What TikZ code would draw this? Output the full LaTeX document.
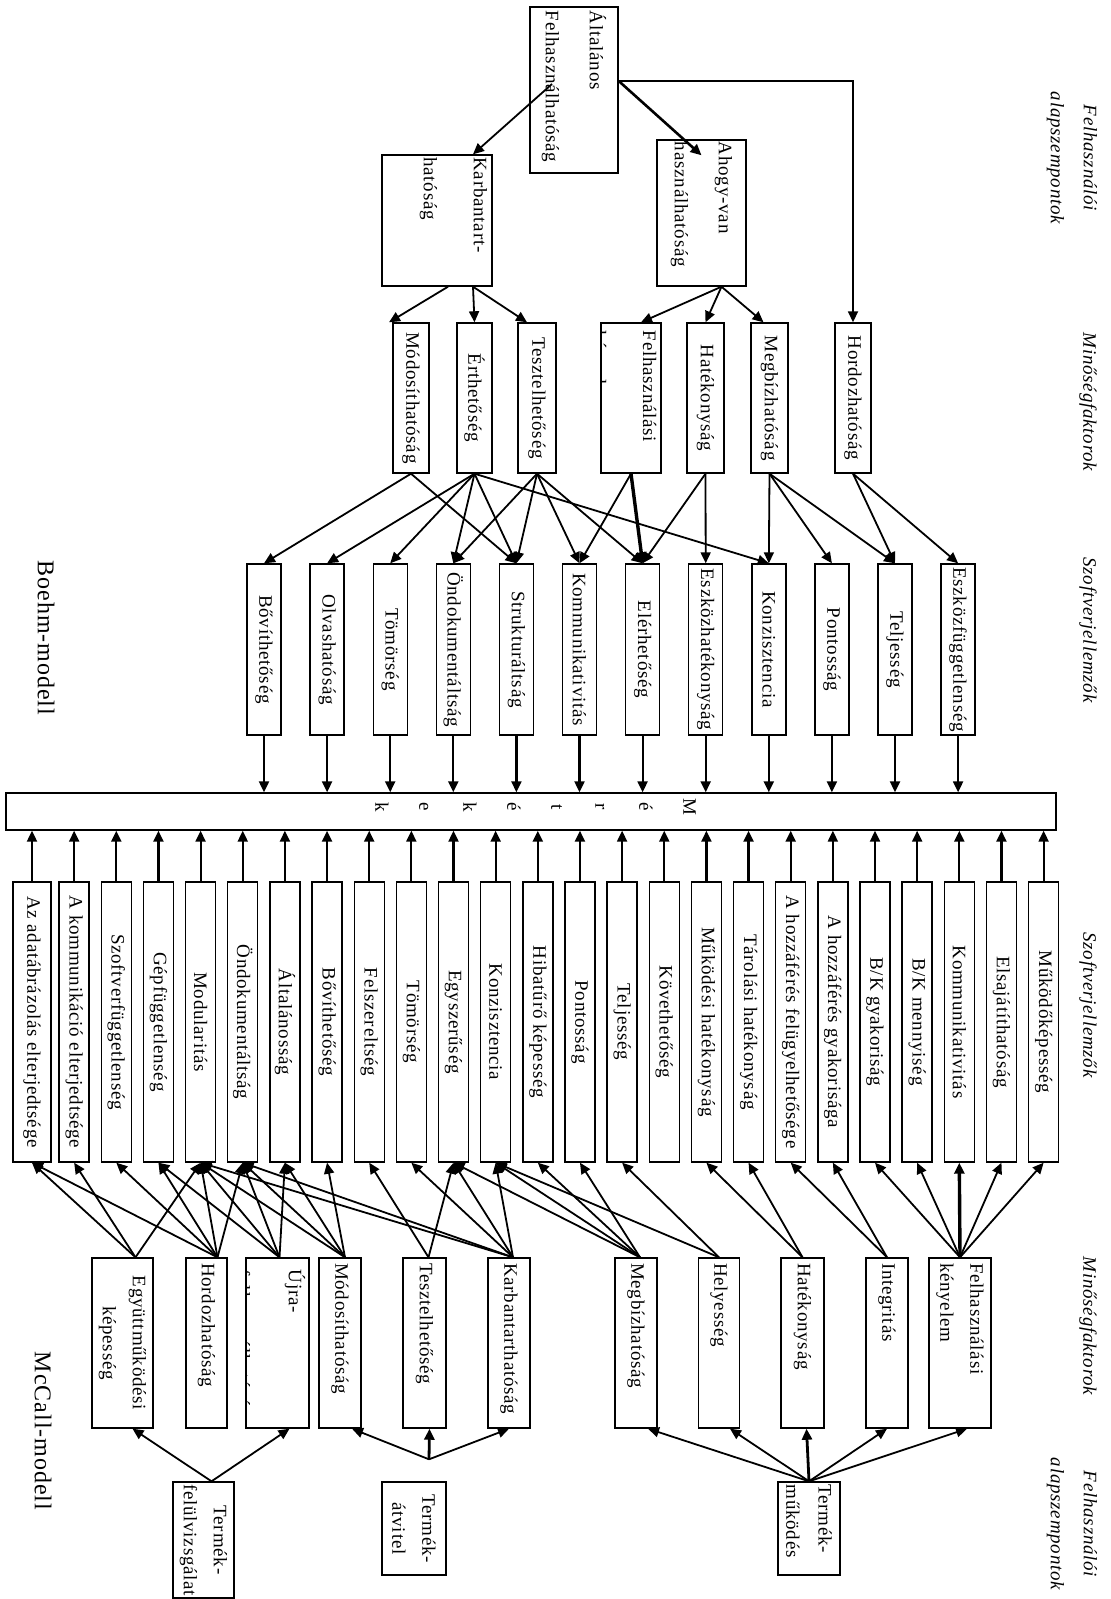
\documentclass[tikz,border=0pt]{standalone}
\usepackage{fontspec}
\setmainfont{Liberation Serif}[LetterSpace=4]
\usepackage{graphicx}
\usetikzlibrary{arrows.meta, calc}

\newcommand{\boxfont}{\fontsize{9.5}{11}\selectfont}
% rotated text, starting at the top of the box
\newcommand{\rtop}[3]{\rotatebox{-90}{\parbox{#1}{\raggedright\baselineskip=#2\relax #3}}}
% rotated text, centred
\newcommand{\rmid}[3]{\rotatebox{-90}{\parbox{#1}{\centering\baselineskip=#2\relax #3}}}

\begin{document}
\begin{tikzpicture}[
    x=0.5pt, y=-0.5pt,
    fbox/.style={draw, line width=0.7pt, inner sep=0pt, font=\boxfont},
    bfac/.style={fbox, minimum height=75pt},
    jbox/.style={fbox, minimum width=17pt, minimum height=85.5pt},
    kbox/.style={fbox, minimum height=140pt},
    mfac/.style={fbox, minimum height=85pt},
    tbox/.style={fbox, minimum height=46.5pt},
    arr/.style={-{Triangle[length=5.5pt, width=5pt]}, line width=0.9pt},
    heavy/.style={line width=1.7pt},
    side/.style={inner sep=0pt, font=\boxfont\itshape},
    model/.style={inner sep=0pt, font=\fontsize{12}{14}\selectfont}
]
\useasboundingbox (0,0) rectangle (1110,1599);

% Boehm: felhasznaloi alapszempontok
\node[fbox, minimum width=44pt, minimum height=83pt] (alt) at (574,90) {\rtop{79pt}{22pt}{Általános\\Felhasználhatóság}};
\node[fbox, minimum width=55pt, minimum height=65.5pt] (karb) at (437,220.5) {\rotatebox{-90}{\parbox[c][50pt][t]{63pt}{\raggedright\baselineskip=25pt\relax Karbantart-\\hatóság}}};
\node[fbox, minimum width=44.5pt, minimum height=73pt] (ahogy) at (701.5,213) {\rtop{71pt}{22pt}{Ahogy-van\\használhatóság}};

% Boehm: minosegfaktorok
\node[bfac, minimum width=18pt] (bmod) at (411,398) {\rotatebox{-90}{Módosíthatóság}};
\node[bfac, minimum width=17.5pt] (berth) at (474.5,398) {\rotatebox{-90}{Érthetőség}};
\node[bfac, minimum width=19pt] (bteszt) at (537,398) {\rotatebox{-90}{Tesztelhetőség}};
\node[bfac, minimum width=30pt, path picture={
    \node[anchor=north east, inner sep=0pt, font=\boxfont] (bfelhtxt) at ([xshift=-2pt, yshift=-1.5pt]path picture bounding box.north east)
        {\rtop{71pt}{25pt}{Felhasználási\\kényelem}};
}] (bfelh) at (631,398) {};
\node[bfac, minimum width=18.5pt] (bhat) at (705.5,398) {\rotatebox{-90}{Hatékonyság}};
\node[bfac, minimum width=18.5pt] (bmegb) at (769.5,398) {\rotatebox{-90}{Megbízhatóság}};
\node[bfac, minimum width=18pt] (bhord) at (853,398) {\rotatebox{-90}{Hordozhatóság}};

% Boehm: szoftverjellemzok
\foreach \i/\t in {1/Bővíthetőség, 2/Olvashatóság, 3/Tömörség, 4/Öndokumentáltság,
    5/Strukturáltság, 6/Kommunikativitás, 7/Elérhetőség, 8/Eszközhatékonyság,
    9/Konzisztencia, 10/Pontosság, 11/Teljesség, 12/Eszközfüggetlenség}
  \node[jbox] (j\i) at ({264+63.1*(\i-1)},649.5) {\rotatebox{-90}{\t}};

% metrikak
\node[fbox, minimum width=525pt, minimum height=18.5pt] (metr) at (531,811.5) {};
\node[inner sep=0pt, font=\boxfont] (metrtxt) at ([xshift=2.25pt, yshift=2.25pt]metr.center)
    {\rmid{15pt}{22pt}{M\\é\\r\\t\\é\\k\\e\\k}};

% McCall: szoftverjellemzok
\foreach \i/\w/\t in {1/19pt/Az adatábrázolás elterjedtsége, 2/15pt/A kommunikáció elterjedtsége,
    3/15pt/Szoftverfüggetlenség, 4/15pt/Gépfüggetlenség, 5/15pt/Modularitás,
    6/15pt/Öndokumentáltság, 7/15pt/Általánosság, 8/15pt/Bővíthetőség,
    9/15pt/Felszereltség, 10/15pt/Tömörség, 11/15pt/Egyszerűség, 12/15pt/Konzisztencia,
    13/15pt/Hibatűrő képesség, 14/15pt/Pontosság, 15/15pt/Teljesség, 16/15pt/Követhetőség,
    17/15pt/Működési hatékonyság, 18/15pt/Tárolási hatékonyság,
    19/15pt/A hozzáférés felügyelhetősége, 20/15pt/A hozzáférés gyakorisága,
    21/15pt/{B/K gyakoriság}, 22/15pt/{B/K mennyiség}, 23/15pt/Kommunikativitás,
    24/15pt/Elsajátíthatóság, 25/15pt/Működőképesség}
  \node[kbox, minimum width=\w] (k\i) at ({32+42.15*(\i-1)},1022) {\rotatebox{-90}{\t}};

% McCall: minosegfaktorok
\node[mfac, minimum width=30.5pt] (megyutt) at (122.5,1343) {\rmid{80pt}{15pt}{Együttműködési\\képesség}};
\node[mfac, minimum width=20.5pt] (mhord) at (206.5,1343) {\rtop{80pt}{11pt}{Hordozhatóság}};
\node[mfac, minimum width=31.5pt, path picture={
    \node[anchor=north east, inner sep=0pt, font=\boxfont] (mujratxt) at ([xshift=-1.5pt, yshift=-3pt]path picture bounding box.north east)
        {\rtop{80pt}{26pt}{Újra-\\felhasználhatóság}};
}] (mujra) at (277.5,1343) {};
\node[mfac, minimum width=21pt] (mmod) at (340,1343) {\rtop{80pt}{11pt}{Módosíthatóság}};
\node[mfac, minimum width=21.5pt] (mteszt) at (424.5,1343) {\rtop{80pt}{11pt}{Tesztelhetőség}};
\node[mfac, minimum width=21pt] (mkarb) at (509,1343) {\rtop{80pt}{11pt}{Karbantarthatóság}};
\node[mfac, minimum width=21pt] (mmegb) at (636,1343) {\rtop{80pt}{11pt}{Megbízhatóság}};
\node[mfac, minimum width=20.5pt] (mhely) at (719,1343) {\rtop{80pt}{11pt}{Helyesség}};
\node[mfac, minimum width=21.5pt] (mhat) at (802.5,1343) {\rtop{80pt}{11pt}{Hatékonyság}};
\node[mfac, minimum width=21pt] (minteg) at (887,1343) {\rtop{80pt}{11pt}{Integritás}};
\node[mfac, minimum width=31pt] (mfelh) at (960,1343) {\rtop{80pt}{15pt}{Felhasználási\\kényelem}};

% McCall: felhasznaloi alapszempontok
\node[fbox, minimum width=30.5pt, minimum height=58pt] (tfelul) at (203.5,1540) {\rmid{56pt}{15pt}{Termék-\\felülvizsgálat}};
\node[tbox, minimum width=32pt] (tatvit) at (414,1528.5) {\rmid{44pt}{15pt}{Termék-\\átvitel}};
\node[tbox, minimum width=31pt] (tmuk) at (809,1528.5) {\rtop{44pt}{16pt}{Termék-\\működés}};
\coordinate (atvj) at ([xshift=7.5pt, yshift=11pt]tatvit.north);

% feliratok
\node[side] (lfel1) at (1072,158) {\rmid{70pt}{16.5pt}{Felhasználói\\alapszempontok}};
\node[side] (lmin1) at (1088,402) {\rotatebox{-90}{Minőségfaktorok}};
\node[side] (lszj1) at (1088,630) {\rotatebox{-90}{Szoftverjellemzők}};
\node[side] (lszj2) at (1088,1005) {\rotatebox{-90}{Szoftverjellemzők}};
\node[side] (lmin2) at (1088,1326) {\rotatebox{-90}{Minőségfaktorok}};
\node[side] (lfel2) at (1072,1524) {\rmid{70pt}{16.5pt}{Felhasználói\\alapszempontok}};
\node[model] (boehm) at (46,638) {\rotatebox{-90}{Boehm-modell}};
\node[model] (mccall) at (43,1431) {\rotatebox{-90}{McCall-modell}};

% Boehm nyilak
\draw[arr] ([xshift=-11pt, yshift=3pt]alt.center) -- ([xshift=18pt]karb.north);
\draw[arr, line width=1.3pt] ([yshift=4.5pt]alt.east) -- ([yshift=-8pt]ahogy.north);
\draw[arr] ([yshift=4.5pt]alt.east) -| (bhord.north);
\draw[arr] ([xshift=5.5pt]karb.south) -- ([xshift=-11pt]bmod.north);
\draw[arr] ([xshift=18pt]karb.south) -- (berth.north);
\draw[arr] ([xshift=18pt]karb.south) -- ([xshift=-5pt]bteszt.north);
\draw[arr] ([xshift=10pt]ahogy.south) -- ([xshift=5pt]bfelh.north);
\draw[arr] ([xshift=10pt]ahogy.south) -- (bhat.north);
\draw[arr] ([xshift=10pt]ahogy.south) -- ([xshift=-3pt]bmegb.north);
\foreach \a/\b in {bmod/1, bmod/5, berth/2, berth/3, berth/4, berth/5, berth/9,
    bteszt/4, bteszt/5, bteszt/6, bteszt/7, bfelh/6, bhat/7, bhat/8,
    bmegb/9, bmegb/10, bmegb/11, bhord/11, bhord/12}
  \draw[arr] (\a.south) -- (j\b.north);
\draw[arr, heavy] (bfelh.south) -- (j7.north);
\foreach \i in {1,...,12}
  \draw[arr, line width=1.1pt] (j\i.south) -- (j\i.south |- metr.north);

% McCall nyilak
\foreach \i in {1,...,25}
  \draw[arr, line width=1.1pt] (k\i.north) -- (k\i.north |- metr.south);
\foreach \a/\s/\b in {megyutt/6.5pt/1, megyutt/6.5pt/2, megyutt/6.5pt/5,
    mhord/5.5pt/1, mhord/5.5pt/3, mhord/5.5pt/4, mhord/5.5pt/5, mhord/5.5pt/6,
    mujra/1pt/4, mujra/1pt/5, mujra/1pt/6, mujra/1pt/7,
    mmod/2.5pt/5, mmod/2.5pt/6, mmod/2.5pt/7, mmod/2.5pt/8,
    mteszt/2pt/9, mteszt/2pt/11,
    mkarb/2pt/5, mkarb/2pt/6, mkarb/2pt/10, mkarb/2pt/11, mkarb/2pt/12,
    mmegb/2pt/11, mmegb/2pt/12, mmegb/2pt/13, mmegb/2pt/14,
    mhely/0pt/12, mhely/0pt/15, mhat/0pt/17, mhat/0pt/18,
    minteg/0pt/19, minteg/0pt/20,
    mfelh/0pt/21, mfelh/0pt/22, mfelh/0pt/24, mfelh/0pt/25}
  \draw[arr] ([xshift=\s]\a.north) -- (k\b.south);
\draw[arr, heavy] (mfelh.north) -- (k23.south);

\draw[arr] ([xshift=4pt]tfelul.north) -- ([xshift=5pt]megyutt.south);
\draw[arr] ([xshift=4pt]tfelul.north) -- ([xshift=6pt]mujra.south);
\draw[arr] (atvj) -- ([xshift=6pt]mmod.south);
\draw[arr, line width=1.4pt] (atvj) -- ([xshift=2.5pt]mteszt.south);
\draw[arr] (atvj) -- (mkarb.south);
\draw[arr] (tmuk.north) -- ([xshift=6pt]mmegb.south);
\draw[arr] (tmuk.north) -- ([xshift=5.5pt]mhely.south);
\draw[arr, line width=1.4pt] (tmuk.north) -- ([xshift=2pt]mhat.south);
\draw[arr] (tmuk.north) -- (minteg.south);
\draw[arr] (tmuk.north) -- ([xshift=3.5pt]mfelh.south);
\end{tikzpicture}
\end{document}
